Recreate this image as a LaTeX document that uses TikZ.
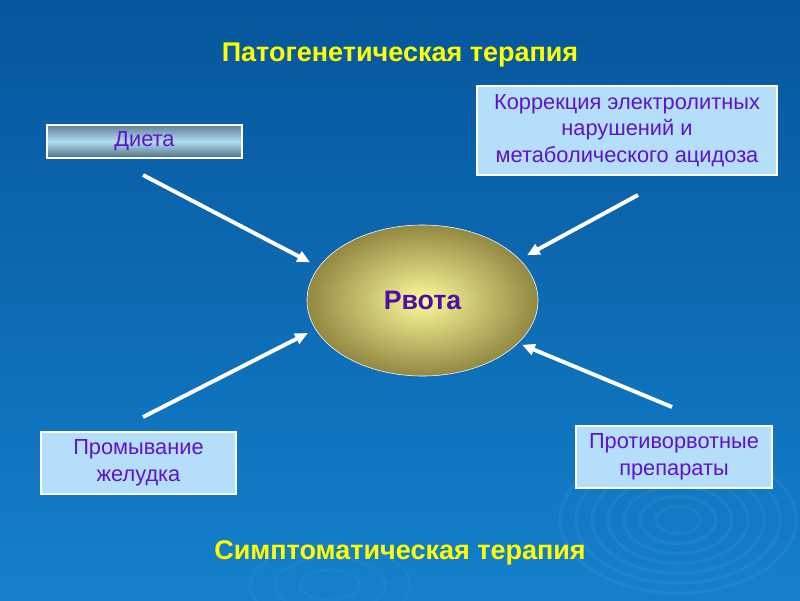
\documentclass[tikz,border=0pt]{standalone}
\usepackage{fontspec}
\setmainfont{Liberation Sans}
\usetikzlibrary{arrows.meta, shapes.geometric, positioning}
\definecolor{SlideTop}{RGB}{6,86,156}
\definecolor{SlideBottom}{RGB}{20,128,204}
\definecolor{TitleYellow}{RGB}{255,255,0}
\definecolor{BoxBlue}{RGB}{180,222,250}
\definecolor{TextViolet}{RGB}{96,20,200}
\definecolor{EggInner}{RGB}{252,250,155}
\definecolor{EggOuter}{RGB}{146,136,66}
\definecolor{SteelDark}{RGB}{96,128,150}
\definecolor{SteelLight}{RGB}{176,220,245}
\tikzset{
  therapy/.style={draw=white, thick, rectangle, fill=BoxBlue, text=TextViolet, align=center, font=\fontsize{15.5}{19}\selectfont, inner sep=2pt},
  heading/.style={text=TitleYellow, font=\fontsize{19.2}{22}\selectfont\bfseries},
  push/.style={white, line width=2.8pt, -{Triangle[length=9pt,width=8pt]}},
}
\begin{document}
\begin{tikzpicture}[x=0.025cm, y=-0.025cm]
\shade[top color=SlideTop, bottom color=SlideBottom] (0,0) rectangle (800,600);
\useasboundingbox (0,0) rectangle (800,600);
% ripples
\foreach \r in {22,38,54,70,86,102,118}
  \draw[white, opacity=0.05, line width=2pt] (678,520) ellipse ({\r} and {\r*0.62});
\foreach \r in {30,55,80}
  \draw[white, opacity=0.03, line width=2pt] (330,585) ellipse ({\r} and {\r*0.5});
\node[heading] at (400,55) (patho) {Патогенетическая терапия};
\node[heading] at (400,553) (sympt) {Симптоматическая терапия};
\node[therapy, top color=SteelDark, bottom color=SteelDark!85!black, middle color=SteelLight, minimum width=4.875cm, minimum height=0.825cm] at (144.5,141.5) (diet) {Диета};
\node[therapy, minimum width=7.5cm, minimum height=2.225cm] at (627,130.5) (correct) {Коррекция электролитных\\нарушений и\\метаболического ацидоза};
\node[therapy, minimum width=4.875cm, minimum height=1.55cm] at (138.5,463) (lavage) {Промывание\\желудка};
\node[therapy, minimum width=4.9cm, minimum height=1.55cm] at (674,457) (antiemetic) {Противорвотные\\препараты};
\node[ellipse, draw=white, inner color=EggInner, outer color=EggOuter, minimum width=5.775cm, minimum height=3.775cm, text=TextViolet!80!black, font=\fontsize{19}{22}\selectfont\bfseries] at (422.5,300.5) (vomit) {Рвота};
\coordinate (dietFrom) at (143,175);
\coordinate (correctFrom) at (638,195);
\coordinate (lavageFrom) at (143,417);
\coordinate (antiemeticFrom) at (672,407);
\draw[push, shorten >=7pt] (dietFrom) -- (vomit.162);
\draw[push, shorten >=6pt] (correctFrom) -- (vomit.23);
\draw[push, shorten >=6pt] (lavageFrom) -- (vomit.195);
\draw[push, shorten >=3pt] (antiemeticFrom) -- (vomit.336);
\end{tikzpicture}
\end{document}
